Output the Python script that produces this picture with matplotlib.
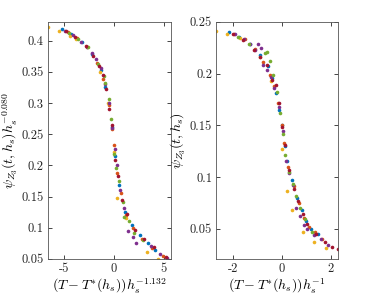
import matplotlib
matplotlib.use("Agg")
import matplotlib.pyplot as plt

plt.rcParams["font.family"] = "cmr10"
plt.rcParams["mathtext.fontset"] = "cm"
plt.rcParams["axes.unicode_minus"] = False

colors = ["#0072BD", "#D95319", "#EDB120", "#7E2F8E", "#77AC30", "#A2142F"]

# left panel: scaled with h_s^-1.132 and h_s^-0.080
left_x = [
    [-5.23, -4.3, -3.2, -2.2, -1.3, -0.87, -0.2, 0.1, 0.5, 1.1, 1.8, 2.6, 3.4, 4.1],
    [-4.6, -3.7, -2.65, -1.7, -1.05, -0.5, -0.15, 0.05, 0.32, 0.7, 1.2, 1.9, 2.8, 3.8, 4.9],
    [-6.57, -5.47, -4.35, -3.75, -1.4, -0.55, 0.0, 0.3, 1.2, 3.3, 4.4],
    [-4.9, -4.1, -3.3, -2.7, -2.2, -1.8, -1.25, -0.9, -0.45, -0.15, 0.1, 0.3, 0.65,
     1.0, 1.4, 1.9, 2.2, 3.7, 4.6, 5.3],
    [-4.5, -3.6, -2.6, -1.6, -1.0, -0.85, -0.5, -0.25, 0.05, 0.25, 0.55, 0.9, 1.0,
     1.5, 2.0, 2.9],
    [-4.8, -3.9, -2.8, -2.05, -1.5, -1.1, -0.8, -0.45, -0.2, 0.1, 0.4, 0.8, 1.3, 2.1,
     3.0, 4.0, 5.2],
]
left_y = [
    [0.419, 0.410, 0.398, 0.379, 0.353, 0.325, 0.262, 0.215, 0.168, 0.125, 0.104, 0.088, 0.076, 0.064],
    [0.414, 0.404, 0.389, 0.364, 0.338, 0.296, 0.258, 0.232, 0.188, 0.155, 0.120, 0.100, 0.082, 0.067, 0.054],
    [0.4215, 0.416, 0.408, 0.402, 0.350, 0.300, 0.222, 0.148, 0.115, 0.061, 0.050],
    [0.415, 0.409, 0.397, 0.389, 0.380, 0.371, 0.356, 0.330, 0.300, 0.260, 0.226, 0.200, 0.160,
     0.132, 0.095, 0.085, 0.075, 0.070, 0.058, 0.052],
    [0.412, 0.403, 0.390, 0.362, 0.343, 0.332, 0.306, 0.274, 0.218, 0.195, 0.175, 0.142, 0.118,
     0.111, 0.092, 0.080],
    [0.415, 0.405, 0.392, 0.376, 0.360, 0.345, 0.322, 0.290, 0.265, 0.209, 0.183, 0.145, 0.122,
     0.097, 0.082, 0.069, 0.053],
]

# right panel: scaled with h_s^-1 only
right_x = [
    [-2.14, -1.75, -1.3, -0.9, -0.55, -0.38, -0.22, -0.1, 0.02, 0.15, 0.22, 0.4, 0.62, 0.82,
     1.0, 1.2, 1.47],
    [-1.95, -1.5, -1.1, -0.75, -0.5, -0.3, -0.15, 0.0, 0.1, 0.25, 0.5, 0.72, 0.92, 1.1, 1.35, 1.65],
    [-2.68, -2.24, -1.72, -0.9, -0.45, 0.0, 0.2, 0.42, 0.87, 1.32, 1.8],
    [-1.9, -1.55, -1.3, -1.1, -0.96, -0.84, -0.75, -0.6, -0.45, -0.3, -0.12, 0.03, 0.18, 0.3,
     0.45, 0.6, 0.75, 0.9, 1.05, 1.3, 1.6, 1.9],
    [-1.8, -1.35, -0.7, -0.6, -0.48, -0.35, -0.2, -0.08, 0.05, 0.15, 0.28, 0.45, 0.6, 0.75,
     0.95, 1.25],
    [-2.0, -1.6, -1.15, -0.9, -0.62, -0.42, -0.25, -0.13, 0.0, 0.12, 0.28, 0.5, 0.65, 0.85,
     1.05, 1.4, 1.75, 2.05, 2.3],
]
right_y = [
    [0.240, 0.235, 0.229, 0.218, 0.207, 0.196, 0.181, 0.165, 0.150, 0.130, 0.116, 0.097, 0.080,
     0.068, 0.058, 0.050, 0.045],
    [0.2385, 0.233, 0.224, 0.211, 0.199, 0.188, 0.172, 0.150, 0.133, 0.110, 0.091, 0.075, 0.061,
     0.052, 0.047, 0.040],
    [0.2416, 0.2385, 0.234, 0.216, 0.193, 0.127, 0.087, 0.068, 0.047, 0.037, 0.032],
    [0.238, 0.233, 0.229, 0.223, 0.229, 0.225, 0.208, 0.203, 0.197, 0.186, 0.168, 0.145, 0.116,
     0.104, 0.092, 0.070, 0.062, 0.054, 0.050, 0.044, 0.040, 0.034],
    [0.235, 0.229, 0.220, 0.2205, 0.2117, 0.199, 0.182, 0.162, 0.142, 0.121, 0.105, 0.093, 0.082,
     0.070, 0.060, 0.047],
    [0.2385, 0.232, 0.223, 0.216, 0.208, 0.194, 0.189, 0.172, 0.148, 0.131, 0.107, 0.089, 0.077,
     0.064, 0.055, 0.045, 0.037, 0.033, 0.031],
]

left_xticks = [-5, 0, 5]
left_yticks = [0.05, 0.1, 0.15, 0.2, 0.25, 0.3, 0.35, 0.4]
right_xticks = [-2, 0, 2]
right_yticks = [0.05, 0.1, 0.15, 0.2, 0.25]

fig = plt.figure(figsize=(3.74, 2.99), dpi=100)

ax1 = fig.add_axes([0.128, 0.134, 0.329, 0.793])
ax2 = fig.add_axes([0.578, 0.134, 0.326, 0.793])


def style(ax, xticks, yticks):
    ax.set_xticks(xticks)
    ax.set_xticklabels([str(t) for t in xticks])
    ax.set_yticks(yticks)
    ax.set_yticklabels([("%g" % t) for t in yticks])
    ax.tick_params(direction="in", top=True, right=True, length=3,
                   width=0.6, colors="#262626", labelsize=9, pad=3)
    for s in ax.spines.values():
        s.set_color("#555555")
        s.set_linewidth(0.6)


for xs, ys, c in zip(left_x, left_y, colors):
    ax1.plot(xs, ys, "o", color=c, markersize=2.6, markeredgewidth=0)

for xs, ys, c in zip(right_x, right_y, colors):
    ax2.plot(xs, ys, "o", color=c, markersize=2.6, markeredgewidth=0)

ax1.set_xlim(-6.6, 5.7)
ax1.set_ylim(0.05, 0.43)
style(ax1, left_xticks, left_yticks)
ax1.set_xlabel(r"$(T-T^{*}(h_s))h_s^{-1.132}$", fontsize=10, labelpad=1)
ax1.set_ylabel(r"$\psi_{Z_3}(t,h_s)h_s^{-0.080}$", fontsize=10, labelpad=1)

ax2.set_xlim(-2.68, 2.3)
ax2.set_ylim(0.021, 0.25)
style(ax2, right_xticks, right_yticks)
ax2.set_xlabel(r"$(T-T^{*}(h_s))h_s^{-1}$", fontsize=10, labelpad=1)
ax2.set_ylabel(r"$\psi_{Z_3}(t,h_s)$", fontsize=10, labelpad=1)

fig.savefig("out.png", dpi=100)
